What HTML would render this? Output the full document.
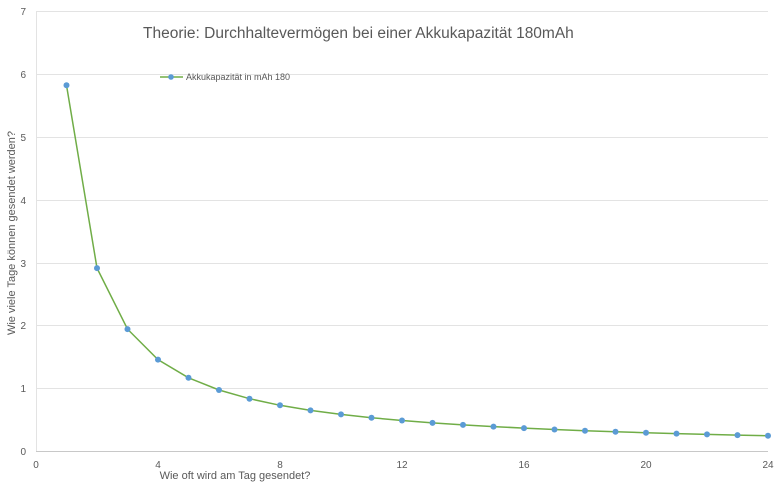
<!DOCTYPE html>
<html><head><meta charset="utf-8"><style>
html,body{margin:0;padding:0;background:#fff;width:780px;height:485px;overflow:hidden}
text{font-family:"Liberation Sans",sans-serif;fill:#595959}
</style></head><body>
<svg width="780" height="485" xmlns="http://www.w3.org/2000/svg">
<g stroke="#e3e3e3" stroke-width="1">
<line x1="36" y1="11.5" x2="768" y2="11.5"/>
<line x1="36" y1="74.5" x2="768" y2="74.5"/>
<line x1="36" y1="137.5" x2="768" y2="137.5"/>
<line x1="36" y1="200.5" x2="768" y2="200.5"/>
<line x1="36" y1="263.5" x2="768" y2="263.5"/>
<line x1="36" y1="325.5" x2="768" y2="325.5"/>
<line x1="36" y1="388.5" x2="768" y2="388.5"/>
<line x1="36.5" y1="11" x2="36.5" y2="451"/>
</g>
<line x1="36" y1="451.5" x2="768" y2="451.5" stroke="#c8c8c8"/>
<g font-size="10" text-anchor="end">
<text x="26" y="15">7</text><text x="26" y="78">6</text><text x="26" y="141">5</text>
<text x="26" y="204">4</text><text x="26" y="267">3</text><text x="26" y="329">2</text>
<text x="26" y="392">1</text><text x="26" y="455">0</text>
</g>
<g font-size="10" text-anchor="middle">
<text x="36" y="468">0</text><text x="158" y="468">4</text><text x="280" y="468">8</text>
<text x="402" y="468">12</text><text x="524" y="468">16</text><text x="646" y="468">20</text><text x="768" y="468">24</text>
</g>
<text x="235" y="479" font-size="11" text-anchor="middle">Wie oft wird am Tag gesendet?</text>
<text transform="translate(15,233) rotate(-90)" font-size="11" text-anchor="middle">Wie viele Tage können gesendet werden?</text>
<text x="143" y="38" font-size="15.5">Theorie: Durchhaltevermögen bei einer Akkukapazität 180mAh</text>
<line x1="160" y1="77" x2="183" y2="77" stroke="#70ad47" stroke-width="1.5"/>
<circle cx="171" cy="77" r="2.8" fill="#5b9bd5"/>
<text x="186" y="80" font-size="9">Akkukapazität in mAh 180</text>
<polyline fill="none" stroke="#70ad47" stroke-width="1.5" points="66.5,85.2 97,268.1 127.5,329.1 158,359.6 188.5,377.8 219,390 249.5,398.7 280,405.3 310.5,410.4 341,414.4 371.5,417.7 402,420.5 432.5,422.9 463,424.9 493.5,426.6 524,428.1 554.5,429.5 585,430.7 615.5,431.7 646,432.7 676.5,433.6 707,434.4 737.5,435.1 768,435.8"/>
<g fill="#5b9bd5">
<circle cx="66.5" cy="85.2" r="3"/><circle cx="97" cy="268.1" r="3"/><circle cx="127.5" cy="329.1" r="3"/><circle cx="158" cy="359.6" r="3"/><circle cx="188.5" cy="377.8" r="3"/><circle cx="219" cy="390" r="3"/><circle cx="249.5" cy="398.7" r="3"/><circle cx="280" cy="405.3" r="3"/><circle cx="310.5" cy="410.4" r="3"/><circle cx="341" cy="414.4" r="3"/><circle cx="371.5" cy="417.7" r="3"/><circle cx="402" cy="420.5" r="3"/><circle cx="432.5" cy="422.9" r="3"/><circle cx="463" cy="424.9" r="3"/><circle cx="493.5" cy="426.6" r="3"/><circle cx="524" cy="428.1" r="3"/><circle cx="554.5" cy="429.5" r="3"/><circle cx="585" cy="430.7" r="3"/><circle cx="615.5" cy="431.7" r="3"/><circle cx="646" cy="432.7" r="3"/><circle cx="676.5" cy="433.6" r="3"/><circle cx="707" cy="434.4" r="3"/><circle cx="737.5" cy="435.1" r="3"/><circle cx="768" cy="435.8" r="3"/>
</g>
</svg>
</body></html>
